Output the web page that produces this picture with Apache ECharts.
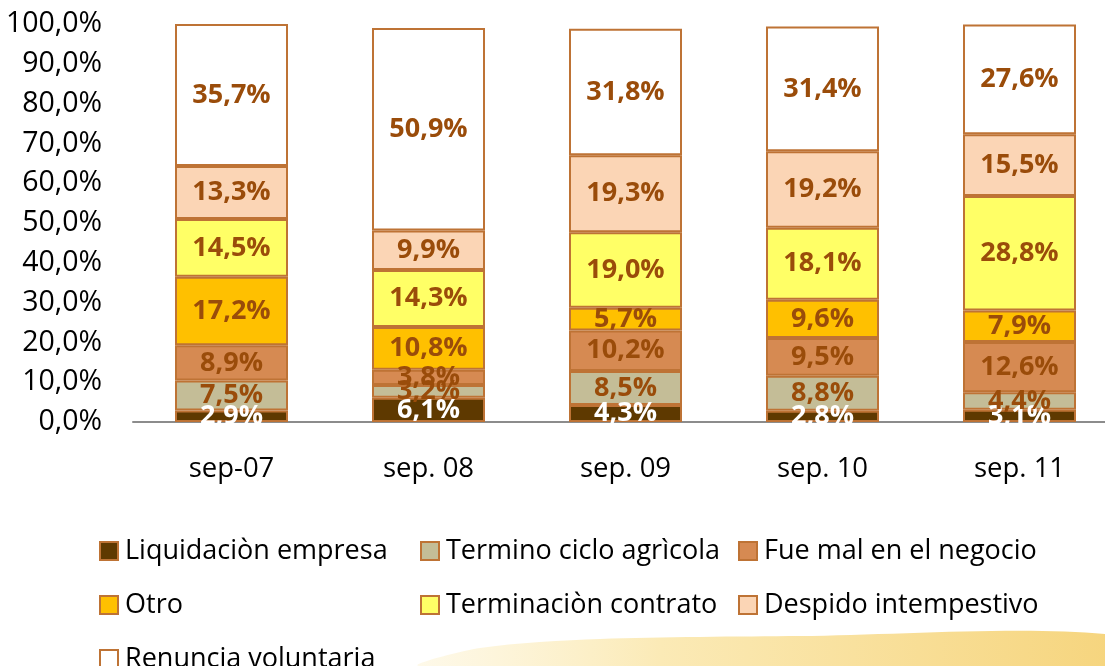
<!DOCTYPE html>
<html>
<head>
<meta charset="utf-8">
<script src="https://cdn.jsdelivr.net/npm/echarts@6/dist/echarts.min.js"></script>
<style>
  html, body { margin: 0; padding: 0; background: #fff; }
  #chart { width: 1105px; height: 666px; }
</style>
</head>
<body>
<div id="chart"></div>
<script>
const categories = ["sep-07", "sep. 08", "sep. 09", "sep. 10", "sep. 11"]

const liquidacion = [2.9, 6.1, 4.3, 2.8, 3.1]
const terminoCiclo = [7.5, 3.2, 8.5, 8.8, 4.4]
const fueMal = [8.9, 3.8, 10.2, 9.5, 12.6]
const otro = [17.2, 10.8, 5.7, 9.6, 7.9]
const terminacion = [14.5, 14.3, 19.0, 18.1, 28.8]
const despido = [13.3, 9.9, 19.3, 19.2, 15.5]
const renuncia = [35.7, 50.9, 31.8, 31.4, 27.6]

const yTicks = { min: 0, max: 100, interval: 10 }

const chart = echarts.init(document.getElementById("chart"))

const font = "'Open Sans', sans-serif"
const labelColor = "#9A4C0A"
const borderColor = "#BE7335"

const pct = (v) => v.toFixed(1).replace(".", ",") + "%"

// one stacked bar series
const makeSeries = (name, data, color, textColor) => ({
  name,
  type: "bar",
  stack: "total",
  data,
  barWidth: 113,
  itemStyle: {
    color,
    borderColor,
    borderWidth: 2,
  },
  label: {
    show: true,
    position: "inside",
    formatter: (p) => pct(p.value),
    color: textColor || labelColor,
    fontFamily: font,
    fontWeight: "bold",
    fontSize: 27,
  },
})

const legendBase = {
  orient: "vertical",
  top: 531,
  height: 300,
  itemWidth: 18,
  itemHeight: 18,
  itemGap: 24,
  icon: "rect",
  textStyle: {
    fontFamily: font,
    fontSize: 27,
    color: "#000",
    lineHeight: 30,
    padding: [0, 0, 0, 2],
  },
}

const option = {
  animation: false,
  backgroundColor: "#fff",
  graphic: [
    {
      type: "polygon",
      z: -10,
      silent: true,
      shape: {
        points: [[420, 666], [480, 648], [600, 639], [800, 636], [1105, 634], [1105, 666]],
        smooth: 0.3,
      },
      style: {
        fill: new echarts.graphic.LinearGradient(0, 0, 1, 0, [
          { offset: 0, color: "rgba(252,240,200,0.4)" },
          { offset: 0.35, color: "#FBEAB6" },
          { offset: 1, color: "#F6D57E" },
        ]),
      },
    },
  ],
  grid: {
    left: 133,
    width: 985,
    top: 24,
    bottom: 244,
    outerBoundsMode: "none",
  },
  legend: [
    { ...legendBase, left: 94, data: ["Liquidaciòn empresa", "Otro", "Renuncia voluntaria"] },
    { ...legendBase, left: 415, data: ["Termino ciclo agrìcola", "Terminaciòn contrato"] },
    { ...legendBase, left: 733, data: ["Fue mal en el negocio", "Despido intempestivo"] },
  ],
  xAxis: {
    type: "category",
    data: categories,
    axisLine: { lineStyle: { color: "#8C8C8C", width: 2 } },
    axisTick: { show: false },
    axisLabel: {
      margin: 33,
      color: "#000",
      fontFamily: font,
      fontSize: 27.5,
    },
  },
  yAxis: {
    type: "value",
    min: yTicks.min,
    max: yTicks.max,
    interval: yTicks.interval,
    axisLine: { show: false },
    axisTick: { show: false },
    splitLine: { show: false },
    axisLabel: {
      margin: 31,
      color: "#000",
      fontFamily: font,
      fontSize: 28.5,
      formatter: (v) => pct(v),
    },
  },
  series: [
    makeSeries("Liquidaciòn empresa", liquidacion, "#5E3900", "#fff"),
    makeSeries("Termino ciclo agrìcola", terminoCiclo, "#C4BD97"),
    makeSeries("Fue mal en el negocio", fueMal, "#D68A52"),
    makeSeries("Otro", otro, "#FFC000"),
    makeSeries("Terminaciòn contrato", terminacion, "#FFFF66"),
    makeSeries("Despido intempestivo", despido, "#FBD5B5"),
    makeSeries("Renuncia voluntaria", renuncia, "#FFFFFF"),
  ],
}

chart.setOption(option)
</script>
</body>
</html>
